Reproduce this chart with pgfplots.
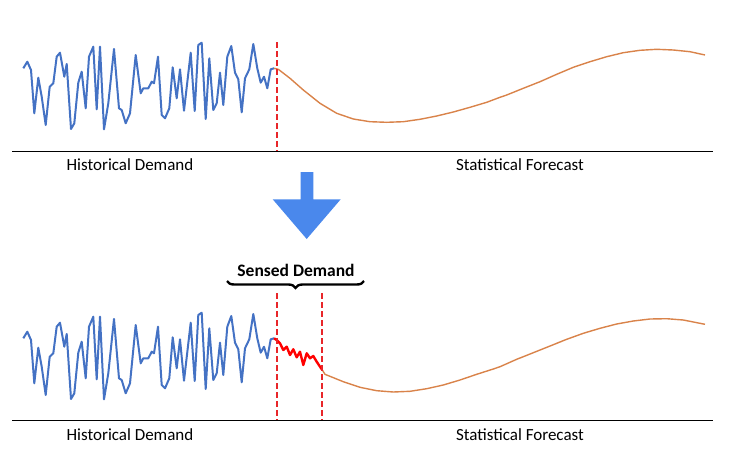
\documentclass[border=0pt]{standalone}
\usepackage{pgfplots}
\pgfplotsset{compat=1.18}
\usepackage{pgfplotstable}
\usepackage{fontspec}
\setmainfont{Carlito}
\usetikzlibrary{decorations.pathreplacing}

\definecolor{histblue}{HTML}{4472C4}
\definecolor{fcorange}{HTML}{D9834A}
\definecolor{cutred}{HTML}{E8262A}
\definecolor{arrowblue}{HTML}{4A88EC}

% pixel coordinates of the reference, y measured downwards
\pgfplotstableread{
x y
23.3 68.3
27.3 61.7
31 70
34.3 113.3
38.3 77.7
41.7 96.7
45.7 125
49.7 86.7
53.3 83.3
56.7 56.7
60 52.7
64.3 76.7
66.7 64
71 129
74.3 123.3
78.3 82.7
81.7 71.7
85.7 108.3
89 56.7
93.3 46.7
96.7 109.3
100 46.7
104 129.3
108.3 103.3
114 49
119 108.3
121.7 110
125.7 123.3
130 113.3
135.7 55
140.7 93.3
143.3 88.3
148.3 88.3
151.7 81.7
154 83.3
158 56.7
161.7 115
165 118.3
169.3 108.3
172.7 67.3
176.7 98.3
180 69.3
184 110.7
190.7 52.7
194.7 111
198.3 45
201.7 42.7
205.7 119
209.3 58.3
213.3 110
216.7 103.3
220 72.7
223.3 105
227.3 56.7
231.3 46
235 72.7
238.3 79.3
241.7 112.3
245 78.3
249.3 69.3
253.3 44
257.3 68.3
260.7 82.7
264 76.7
267.3 88.3
270.7 69.3
274 68.3
}\history

\pgfplotstableread{
x y
274 68.3
278.3 69.3
290 78.3
303.3 90
320 103.3
336.7 113.3
353.3 119
370 121.7
386.7 122.3
403.3 121.7
420 119.3
436.7 116
453.3 112
470 107.3
486.7 102.3
500 97.3
506.7 95
523.3 88.3
540 81.7
556.7 74.3
573.3 67.3
590 61.7
606.7 56.7
623.3 52.7
640 50.3
656.7 49.3
673.3 50
690 51.7
705 55
}\forecastA

\pgfplotstableread{
x y
322 369.5
325 374.3
343.3 381.7
360 387.3
376.7 390.7
393.3 392
410 391.3
426.7 388.7
443.3 385
460 380
476.7 374.3
493.3 369
500 366.7
516.7 359.3
533.3 352.7
550 346
566.7 339.3
583.3 333.3
600 328.3
616.7 324
633.3 321
650 319
666.7 318.7
683.3 320
705 324.3
}\forecastB

\pgfplotstableread{
x y
274 338.3
276.7 340
280 343.3
283.3 350
286.7 346.7
290 355
293.3 349.3
296.7 357.3
300 351.7
303.3 365
306.7 353.3
310 358.3
313.3 356
316.7 361.7
320 366.7
322 369.5
}\sensed

\begin{document}
\begin{tikzpicture}
\begin{axis}[
    width=733pt, height=469pt,
    scale only axis,
    xmin=0, xmax=733, ymin=0, ymax=469,
    y dir=reverse,
    axis lines=none,
    clip=false,
]
\path (axis cs:0,0) (axis cs:733,469);

% top panel
\addplot[black, line width=1pt] coordinates {(12,151) (713,151)};
\addplot[histblue, line width=2pt, line join=round] table {\history};
\addplot[fcorange, line width=1.4pt] table {\forecastA};
\addplot[cutred, line width=2pt, dash pattern=on 6pt off 3pt] coordinates {(277,42) (277,151)};
\node[font=\fontsize{17}{20}\selectfont] at (axis cs:130,165) {Historical Demand};
\node[font=\fontsize{17}{20}\selectfont] at (axis cs:520,165) {Statistical Forecast};

% arrow
\addplot[draw=none, fill=arrowblue] coordinates {
    (300.7,172) (313.3,172) (313.3,199.3) (340.7,199.3)
    (306.7,239) (272.7,199.3) (300.7,199.3) (300.7,172)} -- cycle;

% bottom panel
\addplot[black, line width=1pt] coordinates {(12,420) (713,420)};
\addplot[histblue, line width=2pt, line join=round] table[y expr=\thisrow{y}+270] {\history};
\addplot[fcorange, line width=1.4pt] table {\forecastB};
\addplot[red, line width=2.4pt, line join=round] table {\sensed};
\addplot[cutred, line width=2pt, dash pattern=on 6pt off 3pt] coordinates {(277,293) (277,420)};
\addplot[cutred, line width=2pt, dash pattern=on 6pt off 3pt] coordinates {(322,293) (322,420)};
\draw[line width=2.4pt, decorate, decoration={brace, mirror, amplitude=7pt, aspect=0.5}]
    (axis cs:227,281) -- (axis cs:364,281);
\node[font=\fontsize{17.5}{21}\selectfont\bfseries] at (axis cs:296,270) {Sensed Demand};
\node[font=\fontsize{17}{20}\selectfont] at (axis cs:130,435) {Historical Demand};
\node[font=\fontsize{17}{20}\selectfont] at (axis cs:520,435) {Statistical Forecast};
\end{axis}
\end{tikzpicture}
\end{document}
